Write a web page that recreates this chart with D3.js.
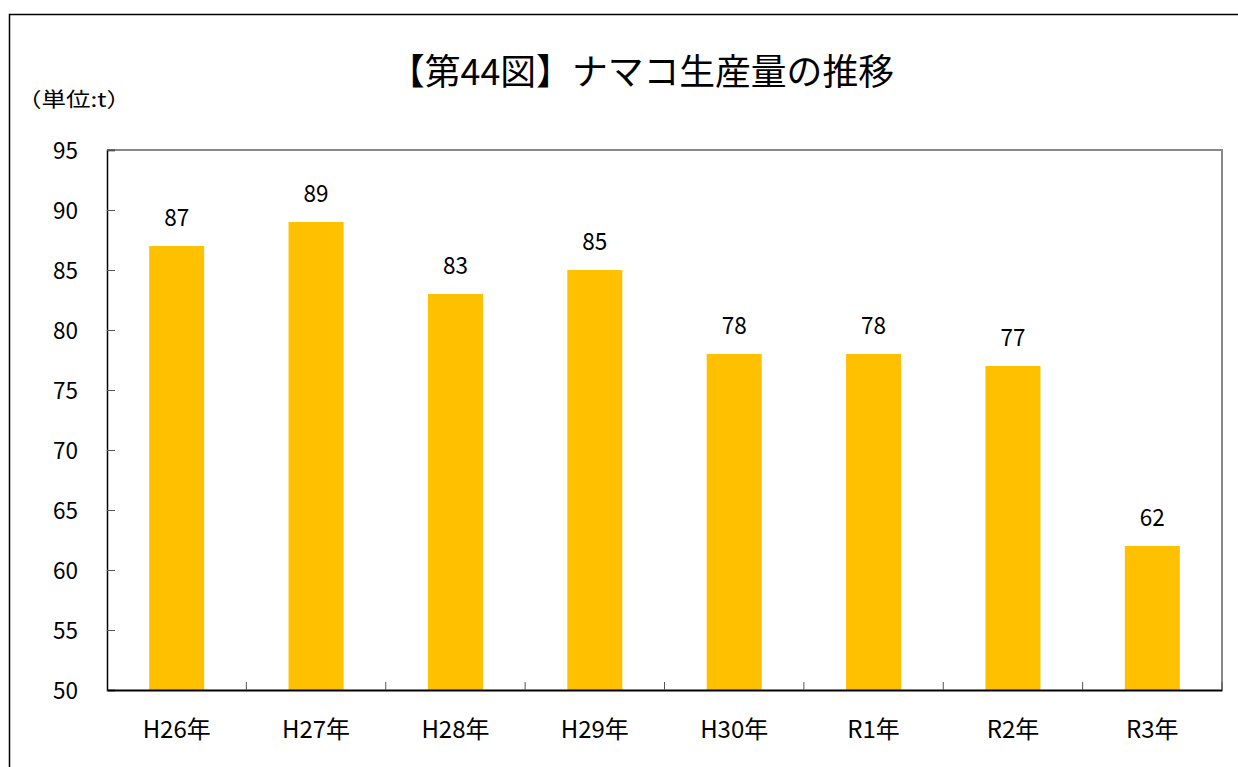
<!DOCTYPE html>
<html><head><meta charset="utf-8">
<script src="https://cdn.jsdelivr.net/npm/d3@7"></script>
<style>body{margin:0;background:#fff;} svg{display:block;font-family:"Noto Sans CJK JP","Noto Sans",sans-serif;}</style>
</head><body>
<svg id="c" width="1238" height="767"></svg>
<script>
const categories = ["H26年","H27年","H28年","H29年","H30年","R1年","R2年","R3年"];
const values = [87, 89, 83, 85, 78, 78, 77, 62];
const yTicks = [50,55,60,65,70,75,80,85,90,95];
const title = "【第44図】ナマコ生産量の推移";
const unitLabel = "（単位:t）";

const svg = d3.select("#c");
const L = 107, R = 1222, T = 150, B = 690;

// outer frame
svg.append("rect").attr("x",9.5).attr("y",14.5).attr("width",1300).attr("height",900)
  .attr("fill","none").attr("stroke","#000").attr("stroke-width",1.5);

const xb = d3.scaleBand().domain(categories).range([L,R]);
const y = d3.scaleLinear().domain([50,95]).range([B,T]);

// plot frame top/right gray
svg.append("path").attr("d",`M${L},${T}H${R}V${B}`).attr("fill","none").attr("stroke","#888").attr("stroke-width",2);

// bars
svg.selectAll("rect.bar").data(values).join("rect").attr("class","bar")
  .attr("x",(d,i)=>xb(categories[i]) + xb.bandwidth()/2 - 27.5)
  .attr("width",55)
  .attr("y",d=>y(d)).attr("height",d=>B-y(d)).attr("fill","#FFC000");

// value labels
svg.selectAll("text.val").data(values).join("text").attr("class","val")
  .attr("x",(d,i)=>xb(categories[i]) + xb.bandwidth()/2)
  .attr("y",d=>y(d)-20).attr("text-anchor","middle").attr("font-size",24).attr("fill","#000")
  .attr("textLength",25).attr("lengthAdjust","spacingAndGlyphs")
  .text(d=>d);

// y axis
const ya = svg.append("g").attr("transform",`translate(${L},0)`)
  .call(d3.axisLeft(y).tickValues(yTicks).tickSize(-8).tickPadding(29));
ya.select(".domain").attr("stroke","#000").attr("stroke-width",1.5);
ya.selectAll(".tick line").attr("stroke","#555");
ya.selectAll("text").attr("font-size",23).attr("fill","#000").attr("dy","0.38em")
  .attr("textLength",25).attr("lengthAdjust","spacingAndGlyphs")
  .attr("font-family","'Noto Sans CJK JP'");

// x axis
const xa = svg.append("g").attr("transform",`translate(0,${B})`)
  .call(d3.axisBottom(xb).tickSize(0).tickPadding(31));
xa.select(".domain").attr("stroke","#000").attr("stroke-width",2);
xa.selectAll("text").attr("font-size",24).attr("fill","#000").attr("font-family","'Noto Sans CJK JP'");
// category boundary ticks
svg.append("g").selectAll("line").data(categories.slice(1)).join("line")
  .attr("x1",d=>xb(d)).attr("x2",d=>xb(d)).attr("y1",B).attr("y2",B-8)
  .attr("stroke","#555").attr("stroke-width",1);
svg.append("line").attr("x1",R).attr("x2",R).attr("y1",B).attr("y2",B-8).attr("stroke","#555");

// title
svg.append("text").attr("x",389).attr("y",85).attr("text-anchor","start")
  .attr("font-size",36).attr("fill","#000")
  .attr("textLength",505).attr("lengthAdjust","spacingAndGlyphs").text(title);
svg.append("text").attr("x",17).attr("y",107).attr("font-size",20).attr("fill","#000")
  .attr("textLength",114).attr("lengthAdjust","spacingAndGlyphs").text(unitLabel);
</script>
</body></html>
